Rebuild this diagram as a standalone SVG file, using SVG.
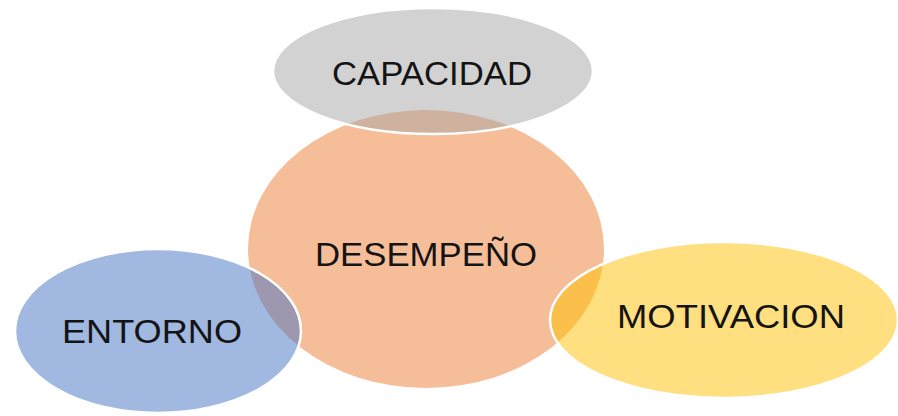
<svg xmlns="http://www.w3.org/2000/svg" width="898" height="416" viewBox="0 0 898 416">
<style>
.c{stroke:#ffffff;stroke-width:2.5;fill-opacity:0.5}
.t{font-family:"Liberation Sans",Arial,sans-serif;font-size:33px;fill:#141414;text-anchor:middle}
</style>
<rect width="898" height="416" fill="#ffffff"/>
<g id="desempeno">
<ellipse cx="426" cy="249" rx="178" ry="139" fill="#ED7D31" fill-opacity="0.5"/>
<text class="t" x="426" y="266" textLength="222" lengthAdjust="spacingAndGlyphs">DESEMPEÑO</text>
</g>
<g id="capacidad">
<ellipse class="c" cx="433" cy="71" rx="160" ry="63" fill="#A5A5A5"/>
<text class="t" x="432" y="85" textLength="200" lengthAdjust="spacingAndGlyphs">CAPACIDAD</text>
</g>
<g id="entorno">
<ellipse class="c" cx="158" cy="331" rx="143" ry="82" fill="#4472C4"/>
<text class="t" x="152" y="343" textLength="180" lengthAdjust="spacingAndGlyphs">ENTORNO</text>
</g>
<g id="motivacion">
<ellipse class="c" cx="724" cy="320" rx="174" ry="78" fill="#FFC000"/>
<text class="t" x="731" y="328" textLength="228" lengthAdjust="spacingAndGlyphs">MOTIVACION</text>
</g>
<g id="connectors"></g>
</svg>
